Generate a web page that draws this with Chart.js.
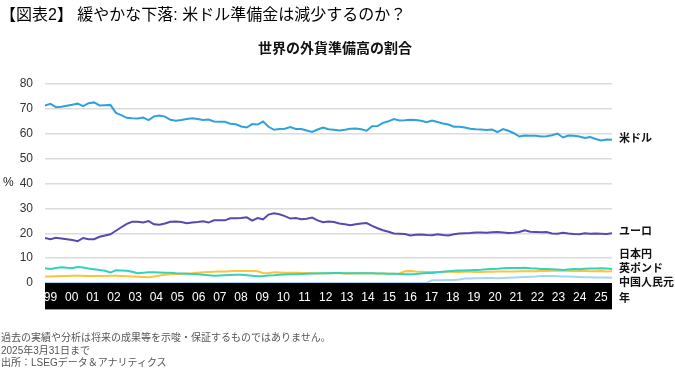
<!DOCTYPE html>
<html lang="ja">
<head>
<meta charset="utf-8">
<script src="https://cdn.jsdelivr.net/npm/chart.js@4/dist/chart.umd.min.js"></script>
<style>
  body { margin: 0; background: #fff; font-family: "Liberation Sans", "Noto Sans CJK JP", sans-serif; }
  .wrap { position: relative; width: 675px; height: 369px; overflow: hidden; }
  canvas { position: absolute; left: 0; top: 0; }
  .title { position: absolute; left: 0; top: 1px; font-size: 16px; color: #000; white-space: nowrap; }
  .subtitle { position: absolute; left: 0; width: 670px; top: 37px; text-align: center; font-size: 14px; font-weight: bold; color: #111; }
  .note { position: absolute; left: 1px; top: 332px; font-size: 10px; line-height: 12.5px; color: #555; }
</style>
</head>
<body>
<div class="wrap">
  <canvas id="chart" width="675" height="369"></canvas>
  <div class="title">【図表2】 緩やかな下落: 米ドル準備金は減少するのか？</div>
  <div class="subtitle">世界の外貨準備高の割合</div>
  <div class="note">過去の実績や分析は将来の成果等を示唆・保証するものではありません。<br>2025年3月31日まで<br>出所：LSEGデータ＆アナリティクス</div>
</div>
<script>
// quarterly shares (%), 1999Q1 .. 2025Q1
let quarters = [];
for (let y = 1999; y <= 2025; y++) {
  for (let q = 0; q < 4; q++) {
    if (y == 2025 && q > 0) break;
    quarters.push(y + q / 4);
  }
}

let yearLabels = ['99','00','01','02','03','04','05','06','07','08','09','10','11','12',
                  '13','14','15','16','17','18','19','20','21','22','23','24','25'];

let seriesNames = ['米ドル', 'ユーロ', '日本円', '英ポンド', '中国人民元'];

let usd = [
  71.3, 72.0, 70.7, 70.9,  71.3, 71.7, 72.1, 71.1,  72.3, 72.6, 71.4, 71.5,
  71.6, 68.4, 67.5, 66.4,  66.2, 66.1, 66.5, 65.5,  67.0, 67.3, 66.9, 65.6,
  65.2, 65.5, 65.9, 66.2,  65.9, 65.5, 65.7, 64.9,  64.8, 64.8, 64.0, 63.8,
  62.9, 62.5, 63.9, 63.7,  64.9, 62.8, 61.6, 61.9,  62.0, 62.7, 61.9, 61.9,
  61.3, 60.7, 61.7, 62.5,  61.8, 61.6, 61.3, 61.6,  62.0, 62.1, 61.8, 61.2,
  63.0, 63.1, 64.4, 65.0,  65.9, 65.3, 65.4, 65.6,  65.5, 65.2, 64.6, 65.3,
  64.7, 64.1, 63.7, 62.8,  62.8, 62.5, 62.0, 61.8,  61.7, 61.5, 61.7, 60.7,
  61.9, 61.2, 60.2, 58.9,  59.3, 59.2, 59.2, 58.9,  59.0, 59.4, 60.1, 58.5,
  59.3, 59.2, 58.9, 58.3,  58.7, 57.9, 57.3, 57.7,  57.6
];
let eur = [
  18.1, 17.6, 18.2, 17.9,  17.6, 17.3, 16.8, 18.1,  17.6, 17.6, 18.6, 19.1,
  19.6, 21.0, 22.4, 23.8,  24.6, 24.6, 24.3, 24.9,  23.6, 23.4, 23.9, 24.6,
  24.7, 24.5, 24.0, 24.3,  24.5, 24.8, 24.3, 25.2,  25.2, 25.2, 26.0, 26.0,
  26.1, 26.4, 25.1, 26.1,  25.6, 27.5, 28.0, 27.6,  26.9, 25.9, 26.1, 25.6,
  25.8, 26.3, 25.2, 24.4,  24.7, 24.5, 23.9, 23.6,  23.2, 23.6, 23.9, 24.1,
  23.0, 22.0, 21.2, 20.6,  19.9, 19.8, 19.7, 19.1,  19.4, 19.5, 19.3, 19.2,
  19.6, 19.3, 19.1, 19.6,  19.9, 20.0, 20.1, 20.3,  20.3, 20.2, 20.4, 20.5,
  20.3, 20.1, 20.2, 20.5,  21.2, 20.6, 20.5, 20.4,  20.5, 19.9, 19.8, 20.2,
  19.9, 19.7, 19.6, 20.0,  19.8, 19.9, 19.8, 19.7,  20.0
];
let jpy = [
  5.9, 5.6, 6.0, 6.3,  6.1, 6.0, 6.4, 6.2,  5.8, 5.5, 5.2, 4.9,
  4.2, 5.1, 5.0, 4.9,  4.5, 3.9, 4.1, 4.3,  4.3, 4.2, 4.1, 4.1,
  3.9, 3.8, 3.7, 3.6,  3.5, 3.3, 3.1, 2.9,  3.0, 3.1, 3.2, 3.3,
  3.3, 3.1, 2.9, 2.7,  2.8, 3.0, 3.1, 3.3,  3.4, 3.5, 3.5, 3.6,
  3.7, 3.8, 3.8, 3.9,  3.9, 4.0, 4.0, 3.9,  3.9, 3.9, 3.9, 3.9,
  3.9, 3.8, 3.8, 3.7,  3.7, 3.6, 3.5, 3.5,  3.6, 3.8, 4.0, 4.0,
  4.3, 4.5, 4.7, 4.9,  5.0, 5.0, 5.1, 5.2,  5.3, 5.5, 5.6, 5.7,
  5.9, 6.0, 6.0, 6.0,  6.1, 5.9, 5.8, 5.6,  5.6, 5.5, 5.4, 5.2,
  5.4, 5.6, 5.5, 5.7,  5.8, 5.8, 5.9, 5.8,  5.6
];
let gbp = [
  2.6, 2.6, 2.7, 2.8,  2.8, 2.9, 2.9, 2.9,  2.8, 2.8, 2.8, 2.8,
  2.9, 2.9, 2.8, 2.7,  2.6, 2.5, 2.4, 2.3,  2.6, 3.0, 3.3, 3.5,
  3.6, 3.7, 3.8, 3.9,  4.1, 4.3, 4.4, 4.5,  4.6, 4.6, 4.7, 4.8,
  4.8, 4.8, 4.8, 4.7,  4.0, 3.9, 4.3, 4.2,  4.1, 4.1, 4.1, 4.0,
  4.0, 3.9, 3.9, 3.9,  3.9, 3.9, 3.9, 3.8,  3.8, 3.9, 3.9, 3.9,
  3.9, 3.8, 3.8, 3.7,  3.7, 3.8, 4.7, 4.8,  4.6, 4.5, 4.4, 4.4,
  4.4, 4.5, 4.5, 4.4,  4.4, 4.5, 4.5, 4.4,  4.4, 4.5, 4.5, 4.6,
  4.6, 4.6, 4.6, 4.7,  4.7, 4.7, 4.7, 4.8,  4.8, 4.9, 4.9, 4.9,
  4.9, 4.7, 4.8, 4.8,  4.7, 4.7, 4.8, 4.6,  4.7
];
let cny = [
  0, 0, 0, 0,  0, 0, 0, 0,  0, 0, 0, 0,
  0, 0, 0, 0,  0, 0, 0, 0,  0, 0, 0, 0,
  0, 0, 0, 0,  0, 0, 0, 0,  0, 0, 0, 0,
  0, 0, 0, 0,  0, 0, 0, 0,  0, 0, 0, 0,
  0, 0, 0, 0,  0, 0, 0, 0,  0, 0, 0, 0,
  0, 0, 0, 0,  0, 0, 0, 0,  0, 0, 0, 1.1,
  1.1, 1.1, 1.2, 1.2,  1.4, 1.8, 1.8, 1.9,  1.9, 2.0, 2.0, 1.9,
  2.0, 2.1, 2.2, 2.3,  2.4, 2.5, 2.6, 2.8,  2.8, 2.8, 2.7, 2.6,
  2.6, 2.5, 2.4, 2.3,  2.3, 2.2, 2.2, 2.2,  2.1
];

let yTicks = [0, 10, 20, 30, 40, 50, 60, 70, 80];

let colors = {
  usd: '#2ea2dd',
  eur: '#5b47b0',
  jpy: '#2fd3bf',
  gbp: '#ffc23a',
  cny: '#a2d6f2'
};

// black band behind the year labels + the labels at the right end
let bandAndLabels = {
  id: 'bandAndLabels',
  beforeDraw: function(chart) {
    let ctx = chart.ctx;
    let area = chart.chartArea;
    ctx.save();
    ctx.fillStyle = '#000';
    ctx.fillRect(area.left, area.bottom, area.right - area.left, 26);
    ctx.fillStyle = '#9a9a9a';
    ctx.fillRect(area.left, area.bottom + 26, area.right - area.left, 1);
    ctx.restore();
  },
  afterDatasetsDraw: function(chart) {
    let ctx = chart.ctx;
    let area = chart.chartArea;
    let yScale = chart.scales.y;
    let x = area.right + 7;
    ctx.save();
    ctx.fillStyle = '#111';
    ctx.font = 'bold 11px "Noto Sans CJK JP"';
    ctx.textBaseline = 'middle';
    ctx.textAlign = 'left';
    // dollar and euro sit beside their last point
    ctx.fillText(seriesNames[0], x, yScale.getPixelForValue(usd[usd.length - 1]) - 2);
    ctx.fillText(seriesNames[1], x, yScale.getPixelForValue(eur[eur.length - 1]) - 2);
    // the three small ones are stacked
    let y0 = yScale.getPixelForValue(11.6);
    ctx.fillText(seriesNames[2], x, y0);
    ctx.fillText(seriesNames[3], x, y0 + 14);
    ctx.fillText(seriesNames[4], x, y0 + 28);
    ctx.fillText('年', x, area.bottom + 15);
    // the % unit left of the axis
    ctx.font = '12px "Liberation Sans"';
    ctx.fillStyle = '#222';
    ctx.fillText('%', 3, yScale.getPixelForValue(40) - 1);
    ctx.restore();
  }
};

let makeLine = function(label, data, color) {
  return {
    label: label,
    data: data,
    borderColor: color,
    backgroundColor: color,
    borderWidth: 2,
    pointRadius: 0,
    tension: 0,
    fill: false
  };
};

let chart = new Chart(document.getElementById('chart'), {
  type: 'line',
  data: {
    labels: quarters,
    datasets: [
      makeLine(seriesNames[0], usd, colors.usd),
      makeLine(seriesNames[1], eur, colors.eur),
      makeLine(seriesNames[2], jpy, colors.jpy),
      makeLine(seriesNames[3], gbp, colors.gbp),
      makeLine(seriesNames[4], cny, colors.cny)
    ]
  },
  options: {
    responsive: false,
    animation: false,
    events: [],
    layout: { padding: { top: 84, right: 63, bottom: 59, left: 0 } },
    plugins: {
      legend: { display: false },
      tooltip: { enabled: false }
    },
    scales: {
      x: {
        type: 'linear',
        min: 1999,
        max: 2025,
        grid: { display: false, drawTicks: false },
        border: { display: false },
        afterFit: function(scale) { scale.height = 27; },
        // the year labels in the band are spaced a bit tighter than the data
        afterBuildTicks: function(scale) {
          scale.ticks = yearLabels.map(function(l, i) { return { value: 1999.252 + i * 0.9707 }; });
        },
        ticks: {
          autoSkip: false,
          maxRotation: 0,
          padding: 7,
          color: '#fff',
          font: { family: 'Liberation Sans', size: 12 },
          callback: function(value, index) { return yearLabels[index]; }
        }
      },
      y: {
        min: 0,
        max: 80,
        afterFit: function(scale) { scale.width = 45; },
        afterBuildTicks: function(scale) {
          scale.ticks = yTicks.map(function(v) { return { value: v }; });
        },
        grid: {
          drawTicks: false,
          lineWidth: 1.5,
          color: function(c) { return c.tick && c.tick.value == 0 ? 'rgba(0,0,0,0)' : '#dcdcdc'; }
        },
        border: { display: false },
        ticks: {
          padding: 12,
          color: '#333',
          font: { family: 'Liberation Sans', size: 12 }
        }
      }
    }
  },
  plugins: [bandAndLabels]
});
</script>
</body>
</html>
